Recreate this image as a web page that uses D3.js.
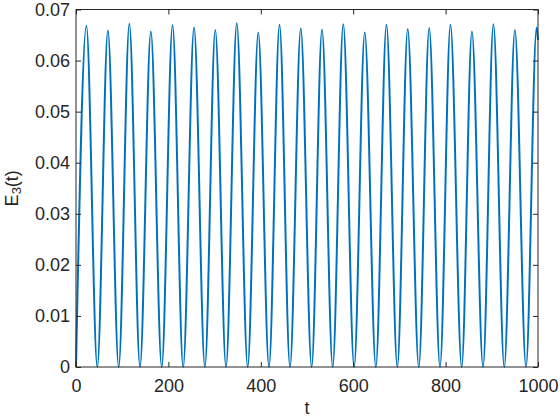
<!DOCTYPE html>
<html>
<head>
<meta charset="utf-8">
<script src="https://cdn.jsdelivr.net/npm/d3@7/dist/d3.min.js"></script>
<style>
  html, body { margin: 0; padding: 0; background: #fff; }
  svg { display: block; }
  text { font-family: "Liberation Sans", Arial, Helvetica, sans-serif; fill: #262626; }
</style>
</head>
<body>
<svg id="chart" width="560" height="420"></svg>
<script>
// Extrema of E3(t) (alternating troughs and peaks)
const troughT = [0, 46.1, 92.4, 138.5, 185.5, 232, 279, 324.7, 371.6, 417.7, 463.2,
                 510, 555.6, 602, 649, 695.5, 742, 787.9, 834.8, 881, 927, 974];
const troughV = [0, 0, 0, 0, 0, 0, 0, 0, 0, 0, 0,
                 0, 0, 0, 0, 0, 0, 0, 0, 0, 0, 0];
const peakT = [22.5, 69, 115.5, 162, 209, 255.5, 301.5, 348, 394.5, 440.5, 486.5,
               532.5, 578.5, 625, 672, 718, 764.5, 810.5, 857, 903.5, 950, 997];
const peakV = [0.0668, 0.0659, 0.0672, 0.0657, 0.0669, 0.0665, 0.0660, 0.0673, 0.0655, 0.0670, 0.0663,
               0.0661, 0.0671, 0.0655, 0.0670, 0.0662, 0.0664, 0.0670, 0.0657, 0.0671, 0.0660, 0.0665];
const endT = 1000, endV = 0.0640;

const xTicks = [0, 200, 400, 600, 800, 1000];
const yTicks = [0, 0.01, 0.02, 0.03, 0.04, 0.05, 0.06, 0.07];
const xLabel = "t";

// build the series
const series = [];
for (let i = 0; i < troughT.length; i++) {
  series.push([troughT[i], troughV[i]]);
  series.push([peakT[i], peakV[i]]);
}
series.push([endT, endV]);

const L = 76, R = 538, T = 9.5, B = 367;
const svg = d3.select("#chart");
const x = d3.scaleLinear().domain([0, 1000]).range([L, R]);
const y = d3.scaleLinear().domain([0, 0.07]).range([B, T]);
const axisColor = "#262626";

// plot line
const line = d3.line().x(d => x(d[0])).y(d => y(d[1])).curve(d3.curveMonotoneX);
svg.append("path")
  .datum(series)
  .attr("d", line)
  .attr("fill", "none")
  .attr("stroke", "#0072BD")
  .attr("stroke-width", 2)
  .attr("stroke-linejoin", "round");

// axes
const fs = "18px";
const gx = svg.append("g").attr("transform", `translate(0,${B})`)
  .call(d3.axisBottom(x).tickValues(xTicks).tickSizeInner(-5).tickSizeOuter(0).tickPadding(12).tickFormat(d3.format("d")));
const gxTop = svg.append("g").attr("transform", `translate(0,${T})`)
  .call(d3.axisTop(x).tickValues(xTicks).tickSizeInner(-5).tickSizeOuter(0).tickFormat(""));
const gy = svg.append("g").attr("transform", `translate(${L},0)`)
  .call(d3.axisLeft(y).tickValues(yTicks).tickSizeInner(-5).tickSizeOuter(0).tickPadding(6).tickFormat(d => d === 0 ? "0" : d3.format(".2f")(d)));
const gyR = svg.append("g").attr("transform", `translate(${R},0)`)
  .call(d3.axisRight(y).tickValues(yTicks).tickSizeInner(-5).tickSizeOuter(0).tickFormat(""));

[gx, gxTop, gy, gyR].forEach(g => {
  g.select(".domain").remove();
  g.selectAll(".tick line").attr("stroke", axisColor).attr("stroke-width", 1);
  g.selectAll(".tick text").attr("fill", axisColor).style("font-size", fs)
    .style("font-family", '"Liberation Sans", Arial, Helvetica, sans-serif');
});

// box
svg.append("rect")
  .attr("x", L).attr("y", T).attr("width", R - L).attr("height", B - T)
  .attr("fill", "none").attr("stroke", axisColor).attr("stroke-width", 1);

// labels
svg.append("text")
  .attr("x", (L + R) / 2).attr("y", 414)
  .attr("text-anchor", "middle")
  .style("font-size", fs)
  .text(xLabel);

const yl = svg.append("text")
  .attr("transform", `translate(18,${(T + B) / 2}) rotate(-90)`)
  .attr("text-anchor", "middle")
  .style("font-size", fs);
yl.append("tspan").text("E");
yl.append("tspan").attr("baseline-shift", "-25%").style("font-size", "13px").text("3");
yl.append("tspan").text("(t)");
</script>
</body>
</html>
